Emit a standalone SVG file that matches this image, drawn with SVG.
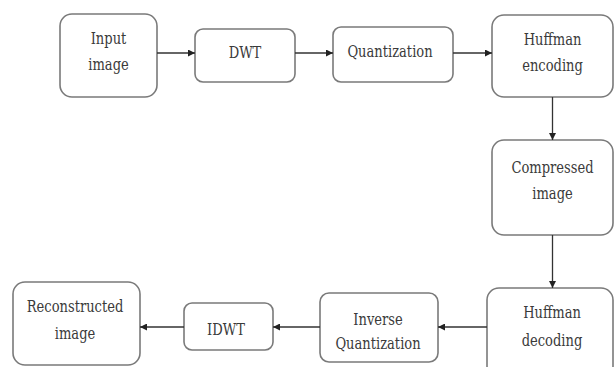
<svg xmlns="http://www.w3.org/2000/svg" width="615" height="367" viewBox="0 0 615 367">
  <defs>
    <marker id="arrow" viewBox="0 0 10 10" refX="10" refY="5" markerWidth="7" markerHeight="7" markerUnits="userSpaceOnUse" orient="auto">
      <path d="M0,0 L10,5 L0,10 z" fill="#222"/>
    </marker>
    <style>
      .box { fill: #ffffff; stroke: #7a7a7a; stroke-width: 1.6; }
      .lbl { font-family: "DejaVu Serif", serif; font-size: 17px; fill: #3a3a3a; text-anchor: middle; }
      .edge { fill: none; stroke: #333333; stroke-width: 1.3; marker-end: url(#arrow); }
    </style>
  </defs>
  <rect x="0" y="0" width="615" height="367" fill="#ffffff"/>

  <!-- labels are narrowed horizontally: each text is centred at x=0 and placed by its transform -->
  <g id="input-image">
    <rect class="box" x="60" y="14" width="97" height="83" rx="12"/>
    <text class="lbl" x="0" y="44" transform="translate(108.5 0) scale(0.77 1)">Input</text>
    <text class="lbl" x="0" y="70" transform="translate(108.5 0) scale(0.77 1)">image</text>
  </g>
  <g id="dwt">
    <rect class="box" x="195" y="29" width="100" height="53" rx="8"/>
    <text class="lbl" x="0" y="58" transform="translate(245 0) scale(0.77 1)">DWT</text>
  </g>
  <g id="quantization">
    <rect class="box" x="333" y="27" width="120" height="55" rx="8"/>
    <text class="lbl" x="0" y="57" transform="translate(390 0) scale(0.77 1)">Quantization</text>
  </g>
  <g id="huffman-encoding">
    <rect class="box" x="492" y="15" width="121" height="82" rx="12"/>
    <text class="lbl" x="0" y="45" transform="translate(552.5 0) scale(0.77 1)">Huffman</text>
    <text class="lbl" x="0" y="71" transform="translate(552.5 0) scale(0.77 1)">encoding</text>
  </g>
  <g id="compressed-image">
    <rect class="box" x="492" y="140" width="121" height="95" rx="12"/>
    <text class="lbl" x="0" y="173" transform="translate(552.5 0) scale(0.77 1)">Compressed</text>
    <text class="lbl" x="0" y="199" transform="translate(552.5 0) scale(0.77 1)">image</text>
  </g>
  <g id="huffman-decoding">
    <rect class="box" x="487" y="288" width="126" height="90" rx="12"/>
    <text class="lbl" x="0" y="318" transform="translate(552 0) scale(0.77 1)">Huffman</text>
    <text class="lbl" x="0" y="346" transform="translate(552 0) scale(0.77 1)">decoding</text>
  </g>
  <g id="inverse-quantization">
    <rect class="box" x="320" y="293" width="118" height="69" rx="9"/>
    <text class="lbl" x="0" y="325" transform="translate(378 0) scale(0.77 1)">Inverse</text>
    <text class="lbl" x="0" y="349" transform="translate(378 0) scale(0.77 1)">Quantization</text>
  </g>
  <g id="idwt">
    <rect class="box" x="184" y="303" width="89" height="47" rx="8"/>
    <text class="lbl" x="0" y="335" transform="translate(226 0) scale(0.77 1)">IDWT</text>
  </g>
  <g id="reconstructed-image">
    <rect class="box" x="13" y="282" width="127" height="83" rx="12"/>
    <text class="lbl" x="0" y="312" transform="translate(75 0) scale(0.77 1)">Reconstructed</text>
    <text class="lbl" x="0" y="339" transform="translate(75 0) scale(0.77 1)">image</text>
  </g>

  <g id="connectors">
    <line class="edge" x1="157" y1="53" x2="195" y2="53"/>
    <line class="edge" x1="295" y1="53" x2="333" y2="53"/>
    <line class="edge" x1="453" y1="53" x2="492" y2="53"/>
    <line class="edge" x1="552.5" y1="97" x2="552.5" y2="140"/>
    <line class="edge" x1="552.5" y1="235" x2="552.5" y2="288"/>
    <line class="edge" x1="487" y1="327" x2="438" y2="327"/>
    <line class="edge" x1="320" y1="327" x2="273" y2="327"/>
    <line class="edge" x1="184" y1="327" x2="140" y2="327"/>
  </g>
</svg>
